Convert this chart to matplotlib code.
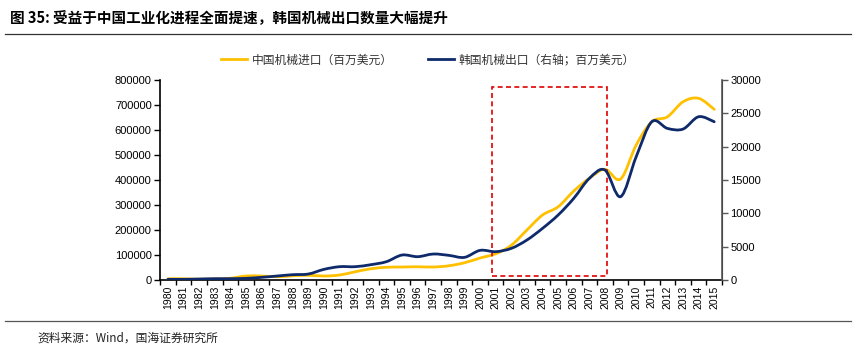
import matplotlib
matplotlib.use("Agg")
import matplotlib.pyplot as plt
import numpy as np
from matplotlib.path import Path
from matplotlib.patches import PathPatch, Rectangle
from matplotlib.lines import Line2D

plt.rcParams['font.family'] = ['Noto Sans CJK SC', 'DejaVu Sans']

years = [str(y) for y in range(1980, 2016)]
china_imports = [5000, 5000, 3000, 4000, 7000, 16000, 16000, 13000, 17000, 19000,
                 16000, 20000, 33000, 45000, 51000, 52000, 53000, 52000, 57000, 69000,
                 88000, 105000, 139000, 200000, 260000, 293000, 356000, 407000, 443000, 404000,
                 540000, 633000, 653000, 713000, 727000, 683000]
korea_exports = [100, 100, 150, 200, 200, 250, 400, 600, 800, 900,
                 1600, 2000, 2000, 2300, 2750, 3750, 3500, 3900, 3700, 3400,
                 4450, 4250, 4750, 6000, 7750, 9750, 12250, 15250, 16500, 12500,
                 18500, 23750, 22750, 22650, 24500, 23750]
legend_labels = ['中国机械进口（百万美元）', '韩国机械出口（右轴；百万美元）']
title = '图 35: 受益于中国工业化进程全面提速，韩国机械出口数量大幅提升'
source = '资料来源：Wind，国海证券研究所'

YELLOW = '#FFC000'
NAVY = '#0F2A6B'
NUMFONT = ['Liberation Sans', 'DejaVu Sans']


def smooth_path(xs, ys):
    xs = np.asarray(xs, float)
    ys = np.asarray(ys, float)
    n = len(xs)
    verts = [(xs[0], ys[0])]
    codes = [Path.MOVETO]
    t = 1.0 / 6.0
    for i in range(n - 1):
        x0, y0 = (xs[i - 1], ys[i - 1]) if i > 0 else (xs[i], ys[i])
        x1, y1 = xs[i], ys[i]
        x2, y2 = xs[i + 1], ys[i + 1]
        x3, y3 = (xs[i + 2], ys[i + 2]) if i + 2 < n else (xs[i + 1], ys[i + 1])
        c1 = (x1 + (x2 - x0) * t, y1 + (y2 - y0) * t)
        c2 = (x2 - (x3 - x1) * t, y2 - (y3 - y1) * t)
        verts += [c1, c2, (x2, y2)]
        codes += [Path.CURVE4] * 3
    return Path(verts, codes)


fig = plt.figure(figsize=(8.56, 3.52), dpi=100)
ax = fig.add_axes([0.187, 0.2045, 0.6565, 0.568])
ax2 = ax.twinx()

x = np.arange(len(years))
ax.add_patch(PathPatch(smooth_path(x, china_imports), fill=False, edgecolor=YELLOW,
                       lw=2.0, capstyle='round', joinstyle='round', zorder=3))
ax2.add_patch(PathPatch(smooth_path(x, korea_exports), fill=False, edgecolor=NAVY,
                        lw=2.0, capstyle='round', joinstyle='round', zorder=3))

ax.set_xlim(-0.5, len(years) - 0.5)
ax.set_ylim(0, 800000)
ax2.set_ylim(0, 30000)
ax.set_yticks(np.arange(0, 800001, 100000))
ax2.set_yticks(np.arange(0, 30001, 5000))
ax.set_yticklabels([f'{v:d}' for v in range(0, 800001, 100000)], fontsize=8, family=NUMFONT)
ax2.set_yticklabels([f'{v:d}' for v in range(0, 30001, 5000)], fontsize=8, family=NUMFONT)
ax.set_xticks(x)
ax.set_xticklabels(years, rotation=90, fontsize=7.5, family=NUMFONT)
ax.set_xticks(np.arange(-0.5, len(years), 1), minor=True)
ax.tick_params(axis='x', which='major', length=0, pad=4)
ax.tick_params(axis='x', which='minor', length=3.5, width=1.0, direction='out', color='black')
ax.tick_params(axis='y', length=4, width=1.0, direction='out', color='black', pad=2)
ax2.tick_params(axis='y', length=4, width=1.0, direction='out', color='#595959', pad=2)

for a in (ax, ax2):
    a.spines['top'].set_visible(False)
ax.spines['left'].set_color('black')
ax.spines['left'].set_linewidth(1.2)
ax.spines['bottom'].set_color('black')
ax.spines['bottom'].set_linewidth(1.2)
ax2.spines['right'].set_color('#595959')
ax2.spines['right'].set_linewidth(1.2)
ax2.spines['left'].set_visible(False)
ax2.spines['bottom'].set_visible(False)

# highlight rectangle
ax.add_patch(Rectangle((20.75, 16000), 7.35, 756000, fill=False, edgecolor='#E00000',
                       lw=1.2, linestyle=(0, (3, 2)), zorder=4))

handles = [Line2D([], [], color=YELLOW, lw=2), Line2D([], [], color=NAVY, lw=2)]
fig.legend(handles, legend_labels, loc='center', bbox_to_anchor=(0.5, 0.83), ncol=2,
           frameon=False, fontsize=8.5, handlelength=2.2, handletextpad=0.4,
           columnspacing=3.0, labelcolor='#333333')

fig.text(0.012, 0.95, title, fontsize=10.5, fontweight='bold', va='center', ha='left')
fig.add_artist(Line2D([0.006, 0.994], [0.902, 0.902], color='#333333', lw=0.9))
fig.add_artist(Line2D([0.006, 0.994], [0.088, 0.088], color='#555555', lw=0.9))
fig.text(0.044, 0.04, source, fontsize=8.5, va='center', ha='left', color='#222222')

fig.savefig('out.png', dpi=100)
